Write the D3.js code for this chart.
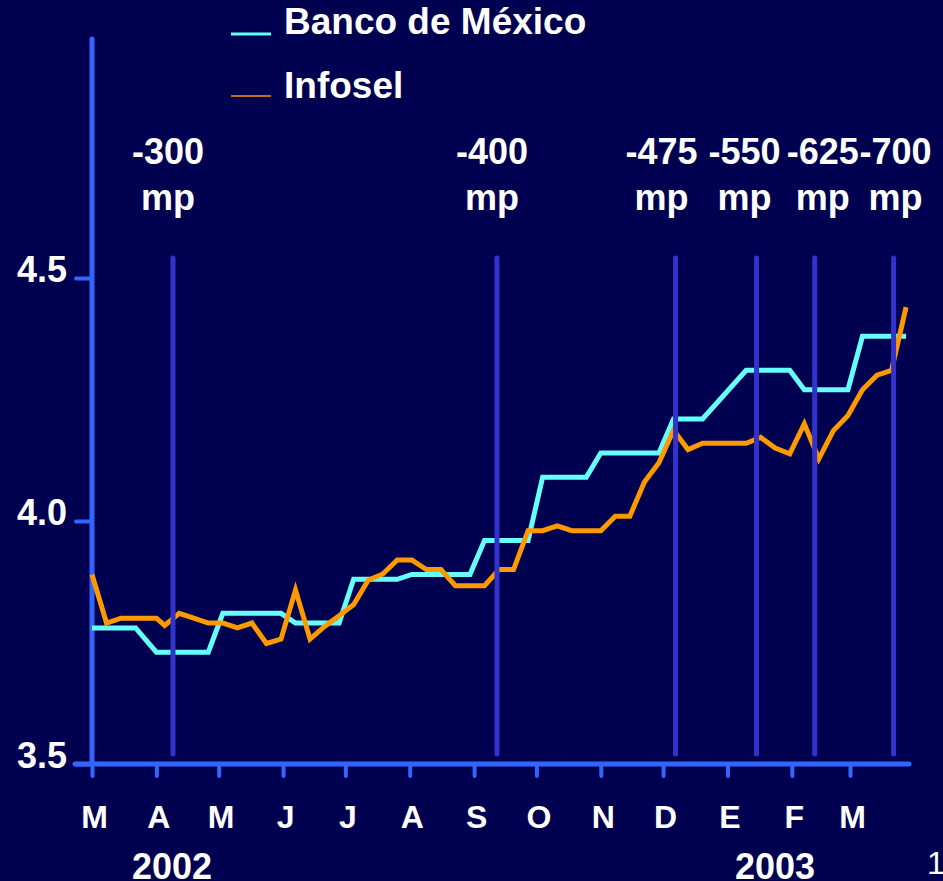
<!DOCTYPE html>
<html>
<head>
<meta charset="utf-8">
<script src="https://cdn.jsdelivr.net/npm/d3@7"></script>
<style>
  html, body { margin: 0; padding: 0; background: #000050; }
  svg { display: block; }
  text { font-family: "Liberation Sans", Arial, sans-serif; fill: #ffffff; }
</style>
</head>
<body>
<div id="chart"></div>
<script>
// Month ticks (Spanish initials) and year labels
const monthTicks = ['2002-03-01', '2002-04-01', '2002-05-01', '2002-06-01', '2002-07-01', '2002-08-01',
    '2002-09-01', '2002-10-01', '2002-11-01', '2002-12-01', '2003-01-01', '2003-02-01', '2003-03-01'];
const monthLabels = ['M', 'A', 'M', 'J', 'J', 'A', 'S', 'O', 'N', 'D', 'E', 'F', 'M'];
const yearLabels = ['2002', '2003'];
const yTicks = [3.5, 4.0, 4.5];

// Banco de México series (weekly, only the turning points)
const bancoDates = ['2002-03-01', '2002-03-22', '2002-04-01', '2002-04-26', '2002-05-03', '2002-05-31',
    '2002-06-07', '2002-06-28', '2002-07-05', '2002-07-26', '2002-08-02', '2002-08-30', '2002-09-06',
    '2002-09-27', '2002-10-04', '2002-10-25', '2002-11-01', '2002-11-29', '2002-12-06', '2002-12-20',
    '2003-01-10', '2003-01-31', '2003-02-07', '2003-02-28', '2003-03-07', '2003-03-28'];
const bancoValues = [3.78, 3.78, 3.73, 3.73, 3.81, 3.81,
    3.79, 3.79, 3.88, 3.88, 3.89, 3.89, 3.96,
    3.96, 4.09, 4.09, 4.14, 4.14, 4.21, 4.21,
    4.31, 4.31, 4.27, 4.27, 4.38, 4.38];

// Infosel series (weekly)
const infoselDates = ['2002-03-01', '2002-03-08', '2002-03-15', '2002-03-22', '2002-04-01', '2002-04-05',
    '2002-04-12', '2002-04-19', '2002-04-26', '2002-05-03', '2002-05-10', '2002-05-17', '2002-05-24',
    '2002-05-31', '2002-06-07', '2002-06-14', '2002-06-21', '2002-06-28', '2002-07-05', '2002-07-12',
    '2002-07-19', '2002-07-26', '2002-08-02', '2002-08-09', '2002-08-16', '2002-08-23', '2002-08-30',
    '2002-09-06', '2002-09-13', '2002-09-20', '2002-09-27', '2002-10-04', '2002-10-11', '2002-10-18',
    '2002-10-25', '2002-11-01', '2002-11-08', '2002-11-15', '2002-11-22', '2002-11-29', '2002-12-06',
    '2002-12-13', '2002-12-20', '2002-12-27', '2003-01-03', '2003-01-10', '2003-01-17', '2003-01-24',
    '2003-01-31', '2003-02-07', '2003-02-14', '2003-02-21', '2003-02-28', '2003-03-07', '2003-03-14',
    '2003-03-21', '2003-03-28'];
const infoselValues = [3.89, 3.79, 3.80, 3.80, 3.80, 3.785,
    3.81, 3.80, 3.79, 3.79, 3.78, 3.79, 3.748,
    3.757, 3.858, 3.757, 3.783, 3.805, 3.828, 3.878,
    3.891, 3.92, 3.92, 3.90, 3.90, 3.867, 3.867,
    3.867, 3.90, 3.90, 3.98, 3.98, 3.99, 3.98,
    3.98, 3.98, 4.01, 4.01, 4.08, 4.12, 4.187,
    4.147, 4.16, 4.16, 4.16, 4.16, 4.172, 4.15,
    4.138, 4.20, 4.128, 4.186, 4.217, 4.27, 4.30,
    4.31, 4.44];

// Rate moves (corto, in puntos base)
const eventLabels = ['-300', '-400', '-475', '-550', '-625', '-700'];
const eventDates = ['2002-04-09', '2002-09-12', '2002-12-07', '2003-01-15', '2003-02-12', '2003-03-22'];

const seriesNames = ['Banco de México', 'Infosel'];
const seriesColors = ['#66ffff', '#ff9900'];

const width = 943, height = 881;
const parse = d3.timeParse('%Y-%m-%d');

const svg = d3.select('#chart').append('svg')
    .attr('width', width)
    .attr('height', height);

svg.append('rect').attr('width', width).attr('height', height).attr('fill', '#000050');

// Scales
const x = d3.scaleTime()
    .domain([parse('2002-03-01'), parse('2003-03-01')])
    .range([92, 850]);
const y = d3.scaleLinear()
    .domain([3.5, 4.5])
    .range([764, 278]);

const axisColor = '#3366ff';
const eventColor = '#3333cc';

// Axis lines
svg.append('line')
    .attr('x1', 75).attr('x2', 909)
    .attr('y1', y(3.5)).attr('y2', y(3.5))
    .attr('stroke', axisColor).attr('stroke-width', 5).attr('stroke-linecap', 'round');
svg.append('line')
    .attr('x1', x(parse(monthTicks[0]))).attr('x2', x(parse(monthTicks[0])))
    .attr('y1', y(3.5)).attr('y2', 39)
    .attr('stroke', axisColor).attr('stroke-width', 5).attr('stroke-linecap', 'round');

// Y axis ticks
const yAxis = svg.append('g')
    .attr('transform', `translate(${x(parse(monthTicks[0]))},0)`)
    .call(d3.axisLeft(y).tickValues(yTicks).tickSize(16).tickPadding(9).tickFormat(d3.format('.1f')));
yAxis.select('.domain').remove();
yAxis.selectAll('line').attr('stroke', axisColor).attr('stroke-width', 4).attr('stroke-linecap', 'round');
yAxis.selectAll('text')
    .attr('dy', 3)
    .attr('font-size', 36).attr('font-weight', 'bold')
    .attr('font-family', '"Liberation Sans", Arial, sans-serif')
    .attr('fill', '#ffffff');

// X axis ticks
const xAxis = svg.append('g')
    .attr('transform', `translate(0,${y(3.5)})`)
    .call(d3.axisBottom(x)
        .tickValues(monthTicks.map(parse))
        .tickSize(12)
        .tickFormat((d, i) => monthLabels[i]));
xAxis.select('.domain').remove();
xAxis.selectAll('line').attr('stroke', axisColor).attr('stroke-width', 4).attr('stroke-linecap', 'round');
xAxis.selectAll('text')
    .attr('y', 64).attr('dy', 0).attr('dx', 2)
    .attr('font-size', 32).attr('font-weight', 'bold')
    .attr('font-family', '"Liberation Sans", Arial, sans-serif')
    .attr('fill', '#ffffff');

// Year labels
svg.selectAll('.year')
    .data(yearLabels)
    .enter()
    .append('text')
    .attr('class', 'year')
    .attr('x', (d, i) => [172, 775][i])
    .attr('y', 879)
    .attr('text-anchor', 'middle')
    .attr('font-size', 36).attr('font-weight', 'bold')
    .text(d => d);

// Page number
svg.append('text')
    .attr('x', 927).attr('y', 874)
    .attr('font-size', 32)
    .text('1');

// Lines
const line = d3.line()
    .x(d => x(d.date))
    .y(d => y(d.value));

const bancoData = bancoDates.map((d, i) => ({ date: parse(d), value: bancoValues[i] }));
const infoselData = infoselDates.map((d, i) => ({ date: parse(d), value: infoselValues[i] }));

[bancoData, infoselData].forEach((data, i) => {
    svg.append('path')
        .datum(data)
        .attr('d', line)
        .attr('fill', 'none')
        .attr('stroke', seriesColors[i])
        .attr('stroke-width', 5)
        .attr('stroke-linejoin', 'miter');
});

// Event lines and labels
const labelDx = [-5, -5, -14, -12, 8, 2];
const ev = svg.selectAll('.event')
    .data(eventDates)
    .enter()
    .append('g')
    .attr('class', 'event');

ev.append('line')
    .attr('x1', d => x(parse(d))).attr('x2', d => x(parse(d)))
    .attr('y1', 258).attr('y2', 754)
    .attr('stroke', eventColor).attr('stroke-width', 5).attr('stroke-linecap', 'round');

ev.append('text')
    .attr('x', (d, i) => x(parse(d)) + labelDx[i])
    .attr('y', 164)
    .attr('text-anchor', 'middle')
    .attr('font-size', 36).attr('font-weight', 'bold')
    .text((d, i) => eventLabels[i]);

ev.append('text')
    .attr('x', (d, i) => x(parse(d)) + labelDx[i])
    .attr('y', 210)
    .attr('text-anchor', 'middle')
    .attr('font-size', 36).attr('font-weight', 'bold')
    .text('mp');

// Legend
const legend = svg.selectAll('.legend')
    .data(seriesNames)
    .enter()
    .append('g')
    .attr('class', 'legend');

legend.append('line')
    .attr('x1', 231).attr('x2', 271)
    .attr('y1', (d, i) => [34, 96][i]).attr('y2', (d, i) => [34, 96][i])
    .attr('stroke', (d, i) => seriesColors[i])
    .attr('stroke-width', (d, i) => [3, 1.5][i]);

legend.append('text')
    .attr('x', 284)
    .attr('y', (d, i) => [34, 98][i])
    .attr('font-size', 37).attr('font-weight', 'bold')
    .text(d => d);
</script>
</body>
</html>
